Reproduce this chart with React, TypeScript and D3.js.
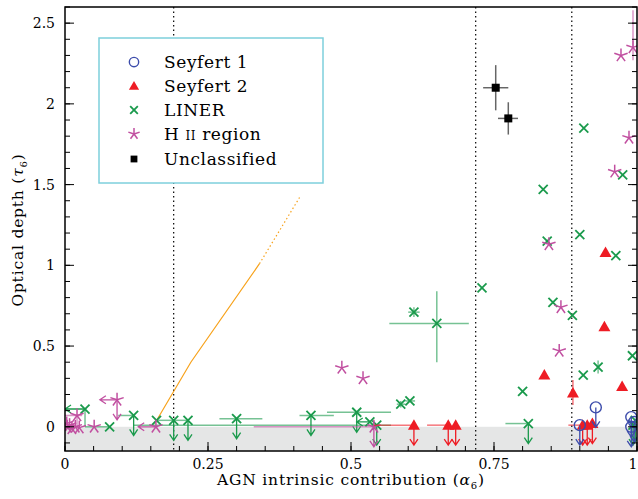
import React from "react";
import * as d3 from "d3";

type Pt = { x: number; y: number; xlo?: number; xhi?: number; ylo?: number; yhi?: number; down?: boolean; left?: number };

const X_TICKS = [0, 0.25, 0.5, 0.75, 1];
const X_TICK_LABELS = ["0", "0.25", "0.5", "0.75", "1"];
const Y_TICKS = [0, 0.5, 1, 1.5, 2, 2.5];
const Y_TICK_LABELS = ["0", "0.5", "1", "1.5", "2", "2.5"];
const DIVIDERS = [0.19, 0.718, 0.886];

const ORANGE_SOLID: [number, number][] = [[0.157, 0.02], [0.22, 0.4], [0.34, 1.01]];
const ORANGE_DOTTED: [number, number][] = [[0.34, 1.01], [0.41, 1.42]];

const SEYFERT1: Pt[] = [
  { x: 0.9, y: 0.01, down: true },
  { x: 0.928, y: 0.12, down: true },
  { x: 0.99, y: 0.06, down: true },
  { x: 0.99, y: 0.0, down: true },
  { x: 0.995, y: 0.03, down: true },
];

const SEYFERT2: Pt[] = [
  { x: 0.61, y: 0.01, down: true, xlo: 0.54 },
  { x: 0.67, y: 0.01, down: true, xlo: 0.633 },
  { x: 0.683, y: 0.01, down: true },
  { x: 0.838, y: 0.32 },
  { x: 0.888, y: 0.21, ylo: 0.135, yhi: 0.29 },
  { x: 0.905, y: 0.01, down: true, xlo: 0.88 },
  { x: 0.913, y: 0.01, down: true },
  { x: 0.922, y: 0.02, down: true },
  { x: 0.945, y: 1.08 },
  { x: 0.943, y: 0.62 },
  { x: 0.974, y: 0.25 },
];

const LINER: Pt[] = [
  { x: 0.035, y: 0.11, left: 0.0, ylo: 0.0 },
  { x: 0.078, y: 0.0, xlo: 0.035 },
  { x: 0.12, y: 0.07, down: true, xlo: 0.093 },
  { x: 0.16, y: 0.04, xhi: 0.215 },
  { x: 0.19, y: 0.04, down: true },
  { x: 0.215, y: 0.04, down: true },
  { x: 0.3, y: 0.05, down: true, xlo: 0.27, xhi: 0.345 },
  { x: 0.43, y: 0.07, down: true, xlo: 0.41, xhi: 0.47 },
  { x: 0.51, y: 0.09, down: true, xlo: 0.458, xhi: 0.57 },
  { x: 0.533, y: 0.03, left: 0.51 },
  { x: 0.545, y: 0.01, down: true, xlo: 0.12, xhi: 0.57 },
  { x: 0.587, y: 0.14, ylo: 0.12, yhi: 0.16, xlo: 0.58, xhi: 0.595 },
  { x: 0.603, y: 0.16, xlo: 0.595, xhi: 0.612 },
  { x: 0.61, y: 0.71, ylo: 0.68, yhi: 0.74, xlo: 0.6, xhi: 0.62 },
  { x: 0.65, y: 0.64, xlo: 0.567, xhi: 0.706, ylo: 0.4, yhi: 0.84 },
  { x: 0.729, y: 0.86 },
  { x: 0.8, y: 0.22 },
  { x: 0.81, y: 0.02, down: true, xlo: 0.77 },
  { x: 0.836, y: 1.47 },
  { x: 0.843, y: 1.15 },
  { x: 0.853, y: 0.77 },
  { x: 0.887, y: 0.69 },
  { x: 0.9, y: 1.19 },
  { x: 0.907, y: 1.85 },
  { x: 0.906, y: 0.32 },
  { x: 0.932, y: 0.37, ylo: 0.33, yhi: 0.41 },
  { x: 0.963, y: 1.06 },
  { x: 0.975, y: 1.56 },
  { x: 0.992, y: 0.44 },
  { x: 0.993, y: 0.01, down: true },
  { x: 0.997, y: 0.04, down: true },
];

const HII: Pt[] = [
  { x: 0.004, y: 0.0, xhi: 0.02 },
  { x: 0.008, y: 0.01 },
  { x: 0.012, y: -0.01 },
  { x: 0.003, y: 0.02 },
  { x: 0.018, y: 0.0 },
  { x: 0.025, y: -0.005 },
  { x: 0.021, y: 0.07, ylo: 0.0, xlo: 0.0, xhi: 0.03 },
  { x: 0.051, y: 0.0 },
  { x: 0.091, y: 0.167, left: 0.061, down: true },
  { x: 0.159, y: 0.0, left: 0.128 },
  { x: 0.484, y: 0.365 },
  { x: 0.521, y: 0.3 },
  { x: 0.54, y: 0.0, down: true, xlo: 0.33 },
  { x: 0.846, y: 1.13 },
  { x: 0.867, y: 0.74 },
  { x: 0.864, y: 0.47 },
  { x: 0.961, y: 1.58 },
  { x: 0.986, y: 1.79 },
  { x: 0.972, y: 2.3 },
  { x: 0.993, y: 2.35, ylo: 2.27, yhi: 2.58 },
];

const UNCLASSIFIED: Pt[] = [
  { x: 0.753, y: 2.1, xlo: 0.731, xhi: 0.775, ylo: 1.96, yhi: 2.24 },
  { x: 0.775, y: 1.91, xlo: 0.757, xhi: 0.792, ylo: 1.81, yhi: 2.01 },
];

const LEGEND_LABELS = ["Seyfert 1", "Seyfert 2", "LINER", "H II region", "Unclassified"];

const BLUE = "#3c4cab";
const RED = "#ee1c24";
const GREEN = "#1a9a4c";
const MAGENTA = "#c14fa0";
const BLACK = "#000";
const ORANGE = "#f7a21b";

const W = 638, H = 499;
const L = 65, R = 637, T = 7, B = 451;
const x = d3.scaleLinear().domain([0, 1]).range([L, R]);
const y = d3.scaleLinear().domain([-0.15, 2.6]).range([B, T]);

const FONT = "'DejaVu Serif', serif";

function Marker({ kind, cx, cy, color, s = 1 }: { kind: string; cx: number; cy: number; color: string; s?: number }) {
  if (kind === "circle") return <circle cx={cx} cy={cy} r={5.5 * s} fill="none" stroke={color} strokeWidth={1.4} />;
  if (kind === "tri") {
    const a = 6 * s;
    return <path d={`M${cx},${cy - a}L${cx + a},${cy + a * 0.75}L${cx - a},${cy + a * 0.75}Z`} fill={color} />;
  }
  if (kind === "x") {
    const a = 4.5 * s;
    return (
      <g stroke={color} strokeWidth={1.8}>
        <line x1={cx - a} y1={cy - a} x2={cx + a} y2={cy + a} />
        <line x1={cx - a} y1={cy + a} x2={cx + a} y2={cy - a} />
      </g>
    );
  }
  if (kind === "star") {
    const a = 7 * s;
    const arms = d3.range(5).map((i) => {
      const ang = -Math.PI / 2 + (i * 2 * Math.PI) / 5;
      return <line key={i} x1={cx} y1={cy} x2={cx + a * Math.cos(ang)} y2={cy + a * Math.sin(ang)} />;
    });
    return <g stroke={color} strokeWidth={1.5}>{arms}</g>;
  }
  const a = 4 * s;
  return <rect x={cx - a} y={cy - a} width={2 * a} height={2 * a} fill={color} />;
}

function Series({ data, kind, color }: { data: Pt[]; kind: string; color: string }) {
  return (
    <g>
      {data.map((p, i) => {
        const px = x(p.x), py = y(p.y);
        const els: React.ReactNode[] = [];
        if (p.xlo !== undefined || p.xhi !== undefined)
          els.push(<line key="xe" x1={x(p.xlo ?? p.x)} x2={x(p.xhi ?? p.x)} y1={py} y2={py} stroke={color} strokeOpacity={0.6} strokeWidth={1.5} />);
        if (p.ylo !== undefined || p.yhi !== undefined)
          els.push(<line key="ye" y1={y(p.ylo ?? p.y)} y2={y(p.yhi ?? p.y)} x1={px} x2={px} stroke={color} strokeOpacity={0.6} strokeWidth={1.5} />);
        if (p.down) {
          const ey = py + 20;
          els.push(
            <path key="da" d={`M${px},${py}V${ey}M${px - 4},${ey - 6}L${px},${ey}L${px + 4},${ey - 6}`} fill="none" stroke={color} strokeWidth={1.3} />
          );
        }
        if (p.left !== undefined) {
          const ex = x(p.left);
          els.push(
            <path key="la" d={`M${px},${py}H${ex}M${ex + 6},${py - 4}L${ex},${py}L${ex + 6},${py + 4}`} fill="none" stroke={color} strokeWidth={1.3} />
          );
        }
        els.push(<Marker key="m" kind={kind} cx={px} cy={py} color={color} />);
        return <g key={i}>{els}</g>;
      })}
    </g>
  );
}

export default function App() {
  const line = d3.line<[number, number]>().x((d) => x(d[0])).y((d) => y(d[1]));
  const xMinor = d3.range(0, 1.0001, 0.05);
  const yMinor = d3.range(-0.1, 2.6001, 0.1);
  const legendKinds = ["circle", "tri", "x", "star", "square"];
  const legendColors = [BLUE, RED, GREEN, MAGENTA, BLACK];
  const legendY = [62, 86, 110, 134, 159];
  return (
    <svg width={W} height={H} style={{ position: "absolute", left: 0, top: 0, background: "#fff" }} fontFamily={FONT}>
      <defs>
        <clipPath id="plot">
          <rect x={L} y={T} width={R - L} height={B - T} />
        </clipPath>
      </defs>
      <rect x={L} y={y(0)} width={R - L} height={B - y(0)} fill="#e5e6e6" />
      {DIVIDERS.map((d, i) => (
        <line key={i} x1={x(d)} x2={x(d)} y1={T} y2={B} stroke="#000" strokeWidth={1.2} strokeDasharray="1.5,3" />
      ))}
      <g clipPath="url(#plot)">
        <path d={line(ORANGE_SOLID) || ""} fill="none" stroke={ORANGE} strokeWidth={1.2} />
        <path d={line(ORANGE_DOTTED) || ""} fill="none" stroke={ORANGE} strokeWidth={1.2} strokeDasharray="1.5,2.5" />
        <Series data={LINER} kind="x" color={GREEN} />
        <Series data={HII} kind="star" color={MAGENTA} />
        <Series data={SEYFERT2} kind="tri" color={RED} />
        <Series data={SEYFERT1} kind="circle" color={BLUE} />
        <Series data={UNCLASSIFIED} kind="square" color={BLACK} />
      </g>
      <g stroke="#000" strokeWidth={1}>
        {xMinor.map((t, i) => (
          <line key={"xm" + i} x1={x(t)} x2={x(t)} y1={B} y2={B - 5} />
        ))}
        {X_TICKS.map((t, i) => (
          <line key={"xM" + i} x1={x(t)} x2={x(t)} y1={B} y2={B - 9} />
        ))}
        {yMinor.map((t, i) => (
          <g key={"ym" + i}>
            <line x1={L} x2={L + 5} y1={y(t)} y2={y(t)} />
            <line x1={R} x2={R - 5} y1={y(t)} y2={y(t)} />
          </g>
        ))}
        {Y_TICKS.map((t, i) => (
          <g key={"yM" + i}>
            <line x1={L} x2={L + 9} y1={y(t)} y2={y(t)} />
            <line x1={R} x2={R - 9} y1={y(t)} y2={y(t)} />
          </g>
        ))}
      </g>
      <rect x={L} y={T} width={R - L} height={B - T} fill="none" stroke="#000" strokeWidth={1.5} />
      {X_TICKS.map((t, i) => (
        <text key={i} x={Math.min(x(t), 633)} y={469} textAnchor="middle" fontSize={14}>{X_TICK_LABELS[i]}</text>
      ))}
      {Y_TICKS.map((t, i) => (
        <text key={i} x={L - 10} y={y(t) + 5} textAnchor="end" fontSize={14}>{Y_TICK_LABELS[i]}</text>
      ))}
      <text x={351} y={485} textAnchor="middle" fontSize={15.5} letterSpacing={0.8}>
        AGN intrinsic contribution (<tspan fontStyle="italic">α</tspan>
        <tspan fontSize={10} dy={4}>6</tspan>
        <tspan dy={-4}>)</tspan>
      </text>
      <text transform={`translate(23,${230}) rotate(-90)`} textAnchor="middle" fontSize={15.5} letterSpacing={0.8}>
        Optical depth (<tspan fontStyle="italic">τ</tspan>
        <tspan fontSize={10} dy={4}>6</tspan>
        <tspan dy={-4}>)</tspan>
      </text>
      <rect x={99} y={38} width={224} height={145} fill="#fff" stroke="#7ecfdc" strokeWidth={1.5} />
      {LEGEND_LABELS.map((lab, i) => (
        <g key={i}>
          <Marker kind={legendKinds[i]} cx={134} cy={legendY[i]} color={legendColors[i]} s={0.85} />
          <text x={164} y={legendY[i] + 6} fontSize={17} letterSpacing={0.6}>
            {lab === "H II region" ? (
              <>
                H <tspan fontSize={12}>II</tspan> region
              </>
            ) : (
              lab
            )}
          </text>
        </g>
      ))}
    </svg>
  );
}
